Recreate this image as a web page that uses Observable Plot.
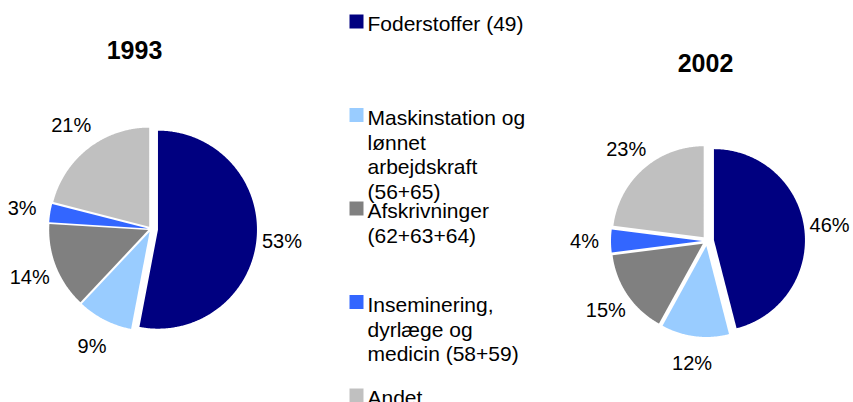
<!DOCTYPE html>
<html>
<head>
<meta charset="utf-8">
<script src="https://cdn.jsdelivr.net/npm/d3@7"></script>
<script src="https://cdn.jsdelivr.net/npm/@observablehq/plot@0.6"></script>
<style>
  html, body { margin: 0; padding: 0; background: #fff; }
  #chart { width: 853px; height: 402px; }
</style>
</head>
<body>
<div id="chart"></div>
<script>
// ---- Data ----
const categories = [
  "Foderstoffer (49)",
  "Maskinstation og lønnet arbejdskraft (56+65)",
  "Afskrivninger (62+63+64)",
  "Inseminering, dyrlæge og medicin (58+59)",
  "Andet"
];
const legendLabels = [
  "Foderstoffer (49)",
  "Maskinstation og\nlønnet\narbejdskraft\n(56+65)",
  "Afskrivninger\n(62+63+64)",
  "Inseminering,\ndyrlæge og\nmedicin (58+59)",
  "Andet"
];
const years = ["1993", "2002"];
const values1993 = [53, 9, 14, 3, 21];
const values2002 = [46, 12, 15, 4, 23];
const colors = ["#000080", "#99CCFF", "#808080", "#3366FF", "#C0C0C0"];

// ---- Layout (pixels) ----
const W = 853, H = 402;
const FONT = "Liberation Sans, Arial, Helvetica, sans-serif";
const pies = [
  {year: years[0], values: values1993, cx: 151, cy: 229, r: 99, explode: [7, 3, 3, 3, 3], titleX: 134, titleY: 50},
  {year: years[1], values: values2002, cx: 707, cy: 241, r: 91, explode: [7, 5, 5, 5, 5], titleX: 705, titleY: 63}
];
const labelGap = 32;
const legendX = 356, legendTextX = 367, legendY0 = 21, legendStep = 93.5;

// ---- Build wedge geometry from the data ----
const wedgePoints = [];
const pctLabels = [];
const titles = [];
for (const p of pies) {
  const arcs = d3.pie().sort(null)(p.values);
  arcs.forEach((a, i) => {
    const mid = (a.startAngle + a.endAngle) / 2;
    const e = p.explode[i];
    const ax = p.cx + Math.sin(mid) * e;
    const ay = p.cy - Math.cos(mid) * e;
    const n = Math.max(2, Math.ceil((a.endAngle - a.startAngle) / (Math.PI / 360)) + 1);
    for (let k = 0; k < n; k++) {
      const t = a.startAngle + (a.endAngle - a.startAngle) * k / (n - 1);
      wedgePoints.push({
        id: p.year + "-" + i,
        category: categories[i],
        x: ax + Math.sin(t) * p.r,
        y: ay - Math.cos(t) * p.r,
        ax, ay
      });
    }
    const lr = p.r + labelGap;
    pctLabels.push({
      text: p.values[i] + "%",
      x: p.cx + Math.sin(mid) * lr,
      y: p.cy - Math.cos(mid) * lr
    });
  });
  titles.push({text: p.year, x: p.titleX, y: p.titleY});
}
const legend = categories.map((c, i) => ({
  category: c,
  label: legendLabels[i],
  y: legendY0 + i * legendStep
}));

const chart = Plot.plot({
  width: W,
  height: H,
  margin: 0,
  style: {fontFamily: FONT, background: "white"},
  x: {domain: [0, W], axis: null},
  y: {domain: [0, H], reverse: true, axis: null},
  color: {domain: categories, range: colors},
  marks: [
    Plot.area(wedgePoints, {
      x1: "x", y1: "y", x2: "ax", y2: "ay",
      z: "id", fill: "category", curve: "linear"
    }),
    Plot.text(pctLabels, {
      x: "x", y: "y", text: "text",
      fontSize: 20, fill: "#000", textAnchor: "middle", fontFamily: FONT
    }),
    Plot.text(titles, {
      x: "x", y: "y", text: "text",
      fontSize: 25, fontWeight: "bold", fill: "#000", textAnchor: "middle", fontFamily: FONT
    }),
    Plot.dot(legend, {
      x: () => legendX, y: "y", symbol: "square", r: 7.9,
      fill: "category", stroke: null
    }),
    Plot.text(legend, {
      x: () => legendTextX, y: "y", text: "label",
      fontSize: 21, lineHeight: 1.17, lineAnchor: "top", dy: -7.5,
      textAnchor: "start", fill: "#000", fontFamily: FONT
    })
  ]
});
document.getElementById("chart").appendChild(chart);
</script>
</body>
</html>
